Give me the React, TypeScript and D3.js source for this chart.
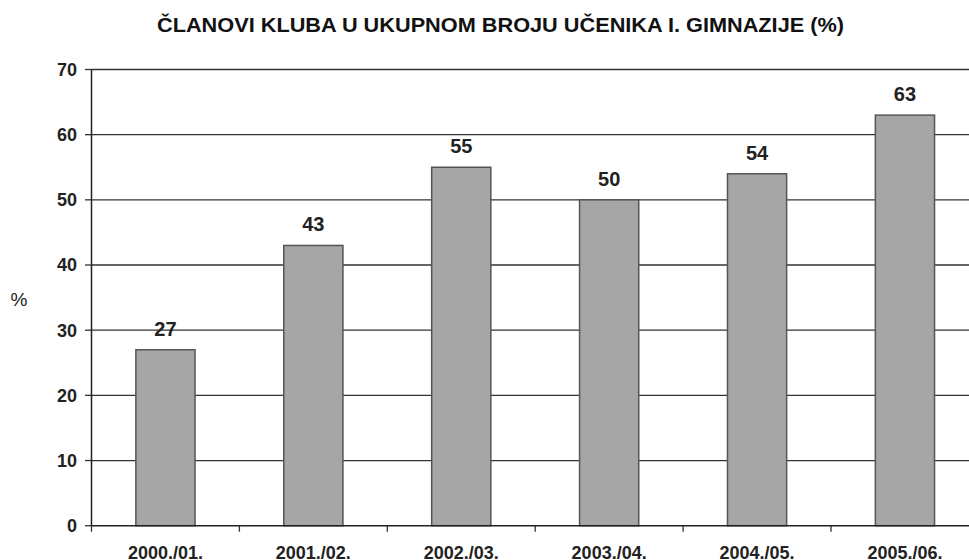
import React from "react";
import * as d3 from "d3";

const categories = ["2000./01.", "2001./02.", "2002./03.", "2003./04.", "2004./05.", "2005./06."];
const values = [27, 43, 55, 50, 54, 63];
const yTicks = [0, 10, 20, 30, 40, 50, 60, 70];
const title = "ČLANOVI KLUBA U UKUPNOM BROJU UČENIKA I. GIMNAZIJE (%)";
const yLabel = "%";

const W = 969;
const H = 560;
const left = 91.5;
const step = 147.9;
const right = left + step * categories.length;
const top = 69.5;
const bottom = 525.7;

export default function App() {
  const x = d3.scaleBand<string>().domain(categories).range([left, right]).paddingInner(0.6).paddingOuter(0.3);
  const y = d3.scaleLinear().domain([0, 70]).range([bottom, top]);
  const font = "Arial, 'Liberation Sans', Helvetica, sans-serif";
  const bounds = [left, ...categories.map((c) => (x(c) as number) + x.bandwidth() / 2 + x.step() / 2)];
  return (
    <svg width={W} height={H} style={{ position: "absolute", left: 0, top: 0, background: "#fff" }} fontFamily={font}>
      <rect x={0} y={0} width={W} height={H} fill="#fff" />
      <text
        x={500.5}
        y={31.5}
        textAnchor="middle"
        fontSize={19.5}
        fontWeight="bold"
        fill="#111"
        textLength={687}
        lengthAdjust="spacingAndGlyphs"
      >
        {title}
      </text>
      {yTicks.map((t) => (
        <g key={t}>
          {t > 0 && <line x1={left} x2={W} y1={y(t)} y2={y(t)} stroke="#333" strokeWidth={1.3} />}
          <line x1={left - 6.5} x2={left} y1={y(t)} y2={y(t)} stroke="#333" strokeWidth={1.3} />
          <text x={77} y={y(t)} dy="0.36em" textAnchor="end" fontSize={18} fontWeight="bold" fill="#222">
            {t}
          </text>
        </g>
      ))}
      {categories.map((c, i) => (
        <g key={c}>
          <rect
            x={x(c)}
            y={y(values[i])}
            width={x.bandwidth()}
            height={bottom - y(values[i])}
            fill="#a6a6a6"
            stroke="#555"
            strokeWidth={1.5}
          />
          <text
            x={(x(c) as number) + x.bandwidth() / 2}
            y={y(values[i]) - 14}
            textAnchor="middle"
            fontSize={20}
            fontWeight="bold"
            fill="#222"
          >
            {values[i]}
          </text>
          <text
            x={(x(c) as number) + x.bandwidth() / 2}
            y={558.5}
            textAnchor="middle"
            fontSize={18}
            fontWeight="bold"
            fill="#222"
          >
            {c}
          </text>
        </g>
      ))}
      {bounds.map((b, i) => (
        <line key={i} x1={b} x2={b} y1={bottom} y2={bottom + 6} stroke="#333" strokeWidth={1.3} />
      ))}
      <line x1={left} x2={left} y1={top} y2={bottom} stroke="#222" strokeWidth={1.5} />
      <line x1={left} x2={W} y1={bottom} y2={bottom} stroke="#222" strokeWidth={1.5} />
      <text x={19} y={299.5} dy="0.36em" textAnchor="middle" fontSize={19} fill="#222">
        {yLabel}
      </text>
    </svg>
  );
}
